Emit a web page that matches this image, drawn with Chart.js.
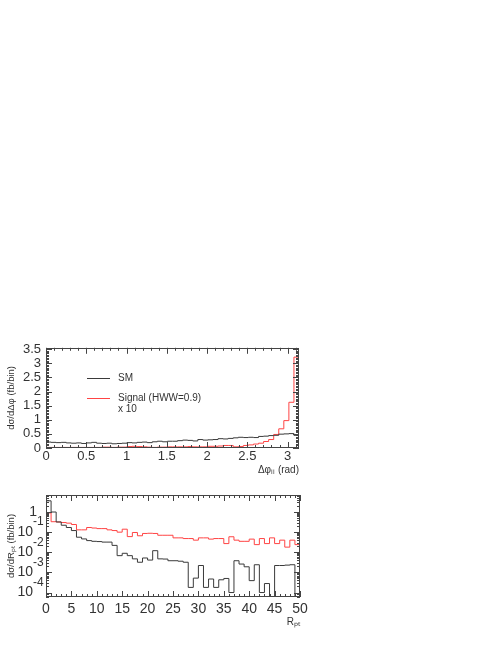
<!DOCTYPE html>
<html>
<head>
<meta charset="utf-8">
<script src="https://cdn.jsdelivr.net/npm/chart.js@4.4.1/dist/chart.umd.min.js"></script>
<style>
    html, body { margin: 0; padding: 0; background: #fff; }
    .panel { position: absolute; left: 0; }
    #p1 { top: 335px; }
    #p2 { top: 485px; }
</style>
</head>
<body>
<div class="panel" id="p1"><canvas id="chartDphi" width="320" height="145"></canvas></div>
<div class="panel" id="p2"><canvas id="chartRpt" width="320" height="145"></canvas></div>
<script>
// Delta phi_ll, 50 bins from 0 to pi (fb/bin)
const dphiMax = Math.PI;
const smDphi = [0.21, 0.20, 0.19, 0.20, 0.18, 0.17, 0.18, 0.16, 0.18, 0.20,
                0.17, 0.16, 0.17, 0.15, 0.16, 0.17, 0.19, 0.18, 0.20, 0.21,
                0.19, 0.22, 0.24, 0.22, 0.24, 0.24, 0.26, 0.28, 0.27, 0.25,
                0.30, 0.28, 0.29, 0.30, 0.33, 0.32, 0.34, 0.36, 0.38, 0.37,
                0.38, 0.37, 0.41, 0.42, 0.44, 0.45, 0.49, 0.50, 0.51, 0.45];
const sigDphi = [0.02, 0.02, 0.02, 0.02, 0.02, 0.02, 0.02, 0.02, 0.02, 0.02,
                 0.02, 0.03, 0.03, 0.02, 0.03, 0.03, 0.05, 0.06, 0.05, 0.04,
                 0.03, 0.02, 0.03, 0.03, 0.04, 0.04, 0.04, 0.04, 0.05, 0.04,
                 0.04, 0.04, 0.06, 0.06, 0.07, 0.09, 0.09, 0.04, 0.05, 0.09,
                 0.11, 0.14, 0.17, 0.23, 0.30, 0.48, 0.68, 0.97, 1.62, 3.22];

// R_pT, 50 bins from 0 to 50 (fb/bin), log scale
const rptMax = 50;
const smRpt = [3.6, 1.0, 0.32, 0.22, 0.17, 0.12, 0.056, 0.046, 0.038, 0.035,
               0.034, 0.032, 0.032, 0.022, 0.0068, 0.0089, 0.0068, 0.0047, 0.0032, 0.0052,
               0.0041, 0.012, 0.0047, 0.0046, 0.0038, 0.0038, 0.0036, 0.0032, 0.00018, 0.00052,
               0.0022, 0.00018, 0.00047, 0.00018, 0.00043, 0.0005, 0.0001, 0.0038, 0.0026, 0.0019,
               0.00039, 0.0024, 0.0001, 0.00028, 0, 0.0022, 0.0022, 0.0023, 0.0024, 0];
const sigRpt = [0.9, 0.33, 0.32, 0.30, 0.28, 0.24, 0.13, 0.13, 0.17, 0.16,
                0.15, 0.15, 0.13, 0.12, 0.10, 0.14, 0.06, 0.096, 0.066, 0.086,
                0.088, 0.086, 0.07, 0.07, 0.07, 0.052, 0.052, 0.048, 0.048, 0.04,
                0.052, 0.052, 0.045, 0.048, 0.048, 0.027, 0.059, 0.04, 0.035, 0.035,
                0.045, 0.024, 0.048, 0.027, 0.052, 0.027, 0.04, 0.018, 0.04, 0.024];
const rptExponents = [0, -1, -2, -3, -4];
const rptMin = 6e-5, rptTop = 7;

const FONT = '"Liberation Sans", Arial, sans-serif';
const INK = '#333';
const SM_COLOR = '#3a3a3a';
const SIG_COLOR = '#ff4444';
Chart.defaults.font.family = FONT;

// histogram outline: one point per left bin edge plus the last right edge
function histPoints(vals, xmax, floor) {
    const w = xmax / vals.length;
    const pts = vals.map((v, i) => ({ x: i * w, y: (floor && !(v > 0)) ? floor : v }));
    pts.push({ x: xmax, y: pts[pts.length - 1].y });
    return pts;
}

function linTicks(min, max, step, majorEvery) {
    const out = [];
    const n = Math.floor((max - min) / step + 1e-6);
    for (let i = 0; i <= n; i++) {
        out.push([min + i * step, i % majorEvery === 0 ? 6 : 3]);
    }
    return out;
}

function logTicks(lo, hi) {
    const out = [];
    for (let e = Math.floor(Math.log10(lo)); e <= Math.ceil(Math.log10(hi)); e++) {
        for (let k = 1; k <= 9; k++) {
            const v = k * Math.pow(10, e);
            if (v >= lo && v <= hi) out.push([v, k === 1 ? 6 : 3]);
        }
    }
    return out;
}

const plainNum = v => String(+v.toFixed(2));

// frame and inward ticks on all four sides
const frameTicks = {
    id: 'frameTicks',
    afterDraw(chart, args, opts) {
        const { ctx, chartArea: a, scales: { x, y } } = chart;
        ctx.save();
        ctx.strokeStyle = '#444';
        ctx.lineWidth = 1;
        ctx.strokeRect(Math.round(a.left) + 0.5, Math.round(a.top) + 0.5,
                       Math.round(a.right - a.left) - 1, Math.round(a.bottom - a.top) - 1);
        ctx.beginPath();
        opts.xTicks.forEach(([v, len]) => {
            const px = Math.round(x.getPixelForValue(v)) + 0.5;
            ctx.moveTo(px, a.bottom); ctx.lineTo(px, a.bottom - len);
            ctx.moveTo(px, a.top); ctx.lineTo(px, a.top + len);
        });
        opts.yTicks.forEach(([v, len]) => {
            const py = Math.round(y.getPixelForValue(v)) + 0.5;
            ctx.moveTo(a.left, py); ctx.lineTo(a.left + len, py);
            ctx.moveTo(a.right, py); ctx.lineTo(a.right - len, py);
        });
        ctx.stroke();
        ctx.restore();
    }
};

const legendBox = {
    id: 'legendBox',
    afterDraw(chart) {
        const ctx = chart.ctx;
        const ds = chart.data.datasets;
        const rows = [[43, ds[0]], [63, ds[1]]];
        ctx.save();
        ctx.lineWidth = 1;
        ctx.font = '10px ' + FONT;
        ctx.fillStyle = INK;
        ctx.textBaseline = 'middle';
        rows.forEach(([yy, d]) => {
            ctx.strokeStyle = d.borderColor;
            ctx.beginPath();
            ctx.moveTo(87, yy + 0.5); ctx.lineTo(110, yy + 0.5);
            ctx.stroke();
        });
        ctx.fillText('SM', 118, 43);
        ctx.fillText('Signal (HWW=0.9)', 118, 63);
        ctx.fillText('x 10', 118, 74);
        ctx.restore();
    }
};

// 1, 10^-1 ... labels of the log axis
const logLabels = {
    id: 'logLabels',
    afterDraw(chart) {
        const { ctx, scales: { y } } = chart;
        ctx.save();
        ctx.fillStyle = INK;
        ctx.textBaseline = 'middle';
        rptExponents.forEach(n => {
            const py = y.getPixelForValue(Math.pow(10, n));
            ctx.font = '14px ' + FONT;
            ctx.textAlign = 'right';
            if (n === 0) {
                ctx.fillText('1', 37, py);
            } else {
                ctx.fillText('10', 33, py);
                ctx.font = '12px ' + FONT;
                ctx.textAlign = 'left';
                ctx.fillText(String(n), 33, py - 10);
            }
        });
        ctx.restore();
    }
};

const tickFont = (size) => ({ family: FONT, size: size });

new Chart(document.getElementById('chartDphi'), {
    type: 'line',
    data: {
        datasets: [{
            label: 'SM',
            data: histPoints(smDphi, dphiMax),
            borderColor: SM_COLOR,
            borderWidth: 1,
            stepped: 'before',
            pointRadius: 0
        }, {
            label: 'Signal (HWW=0.9) x 10',
            data: histPoints(sigDphi, dphiMax),
            borderColor: SIG_COLOR,
            borderWidth: 1,
            stepped: 'before',
            pointRadius: 0
        }]
    },
    options: {
        responsive: false,
        animation: false,
        layout: { padding: { top: 10, right: 21, bottom: 0, left: 0 } },
        plugins: {
            legend: { display: false },
            tooltip: { enabled: false },
            frameTicks: {
                xTicks: linTicks(0, dphiMax, 0.1, 5),
                yTicks: linTicks(0, 3.55, 0.05, 10)
            }
        },
        scales: {
            x: {
                type: 'linear', min: 0, max: dphiMax,
                grid: { display: false, drawTicks: false },
                border: { display: false },
                ticks: { stepSize: 0.5, includeBounds: false, padding: 1, color: INK,
                         font: tickFont(13), maxRotation: 0, autoSkip: false,
                         callback: plainNum },
                title: { display: true, text: 'Δφₗₗ (rad)', align: 'end', color: INK,
                         font: tickFont(10), padding: { top: 0, bottom: 4 } },
                afterFit(s) { s.height = 32; }
            },
            y: {
                type: 'linear', min: 0, max: 3.55,
                grid: { display: false, drawTicks: false },
                border: { display: false },
                ticks: { stepSize: 0.5, includeBounds: false, padding: 5, color: INK,
                         font: tickFont(13), autoSkip: false, callback: plainNum },
                title: { display: true, text: 'dσ/dΔφ (fb/bin)', color: INK,
                         font: tickFont(9.5), padding: { top: 6, bottom: 0 } },
                afterFit(s) { s.width = 46; }
            }
        }
    },
    plugins: [frameTicks, legendBox]
});

new Chart(document.getElementById('chartRpt'), {
    type: 'line',
    data: {
        datasets: [{
            label: 'SM',
            data: histPoints(smRpt, rptMax, rptMin / 10),
            borderColor: SM_COLOR,
            borderWidth: 1,
            stepped: 'before',
            pointRadius: 0
        }, {
            label: 'Signal (HWW=0.9) x 10',
            data: histPoints(sigRpt, rptMax, rptMin / 10),
            borderColor: SIG_COLOR,
            borderWidth: 1,
            stepped: 'before',
            pointRadius: 0
        }]
    },
    options: {
        responsive: false,
        animation: false,
        layout: { padding: { top: 10, right: 20, bottom: 0, left: 0 } },
        plugins: {
            legend: { display: false },
            tooltip: { enabled: false },
            frameTicks: {
                xTicks: linTicks(0, rptMax, 1, 5),
                yTicks: logTicks(rptMin, rptTop)
            }
        },
        scales: {
            x: {
                type: 'linear', min: 0, max: rptMax,
                grid: { display: false, drawTicks: false },
                border: { display: false },
                ticks: { stepSize: 5, includeBounds: false, padding: 4, color: INK,
                         font: tickFont(14), maxRotation: 0, autoSkip: false },
                title: { display: true, text: 'Rₚₜ', align: 'end', color: INK,
                         font: tickFont(10), padding: { top: 0, bottom: 2 } },
                afterFit(s) { s.height = 33; }
            },
            y: {
                type: 'logarithmic', min: rptMin, max: rptTop,
                grid: { display: false, drawTicks: false },
                border: { display: false },
                ticks: { display: false },
                title: { display: true, text: 'dσ/dRₚₜ (fb/bin)', color: INK,
                         font: tickFont(9.5), padding: { top: 6, bottom: 0 } },
                afterFit(s) { s.width = 46; }
            }
        }
    },
    plugins: [frameTicks, logLabels]
});
</script>
</body>
</html>
